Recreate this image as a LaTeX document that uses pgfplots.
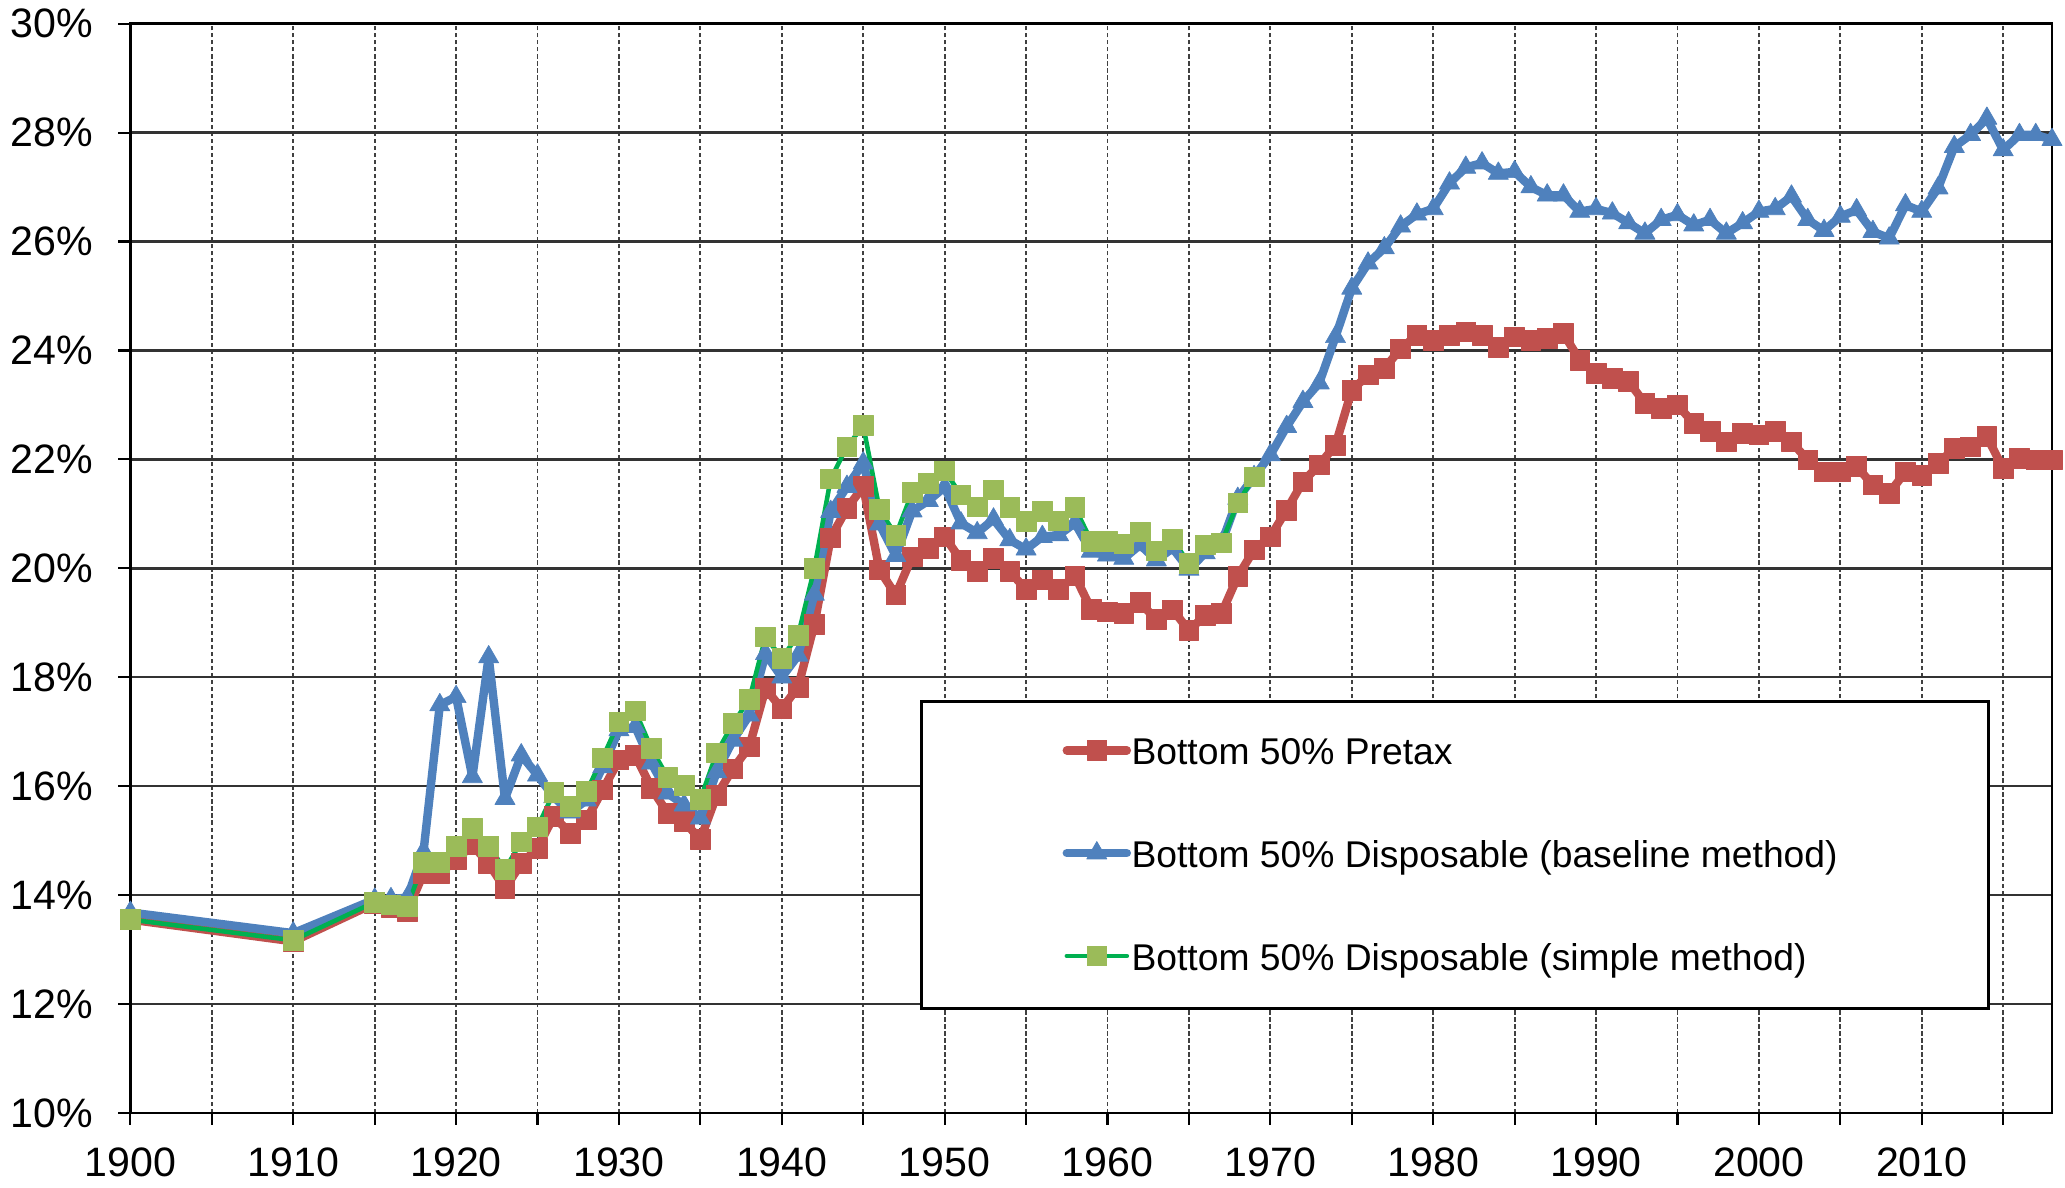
\documentclass[border=0pt]{standalone}
\usepackage{pgfplots}
\pgfplotsset{compat=1.18}
\usepackage{fontspec}
\setmainfont{Liberation Sans}
\definecolor{cred}{HTML}{C0504D}
\definecolor{cblue}{HTML}{4F81BD}
\definecolor{cgline}{HTML}{00B050}
\definecolor{cgmark}{HTML}{9BBB59}
\begin{document}
\begin{tikzpicture}
\useasboundingbox (-1.304cm,-0.743cm) rectangle (19.346cm,11.129cm);
\begin{axis}[
  at={(0,0)}, anchor=south west,
  scale only axis, width=19.216cm, height=10.892cm,
  xmin=1900, xmax=2018, ymin=10, ymax=30,
  xtick={1900,1910,1920,1930,1940,1950,1960,1970,1980,1990,2000,2010},
  xticklabels={1900,1910,1920,1930,1940,1950,1960,1970,1980,1990,2000,2010},
  minor xtick={1905,1915,1925,1935,1945,1955,1965,1975,1985,1995,2005,2015},
  ytick={10,12,14,16,18,20,22,24,26,28,30},
  yticklabels={10\%,12\%,14\%,16\%,18\%,20\%,22\%,24\%,26\%,28\%,30\%},
  xmajorgrids, xminorgrids, ymajorgrids,
  major x grid style={black!75, line width=0.5pt, dash pattern=on 1.2pt off 0.8pt},
  minor x grid style={black!75, line width=0.5pt, dash pattern=on 1.2pt off 0.8pt},
  major y grid style={black!80, line width=0.7pt},
  tick align=outside, xtick pos=bottom, ytick pos=left,
  major tick length=0.12cm, minor tick length=0.12cm,
  tick style={black, line width=0.6pt},
  axis line style={black, line width=0.8pt},
  /pgf/number format/assume math mode=true,
  ticklabel style={font=\fontsize{11.7}{14}\selectfont, inner sep=0pt},
  yticklabel style={xshift=-0.25cm},
  xticklabel style={yshift=-0.22cm},
  clip=false,
  legend cell align=left,
  legend style={draw=none, fill=none, at={(axis cs:1957.2,14.77)}, anchor=west,
    inner sep=0pt, row sep=0.618cm, column sep=0.005cm,
    font=\fontsize{10.6}{12}\selectfont,
    nodes={inner sep=0pt, text height=0.35cm, text depth=0.06cm}},
]
\addplot[color=cred, line width=2.4pt, line join=round, line cap=round, mark=square*, mark size=2.8pt,
  mark options={fill=cred, draw=cred, line width=0.2pt}] coordinates {
(1900,13.55) (1910,13.15) (1915,13.85) (1916,13.78) (1917,13.70) (1918,14.40) (1919,14.40)
(1920,14.65) (1921,14.92) (1922,14.58) (1923,14.12) (1924,14.58) (1925,14.86) (1926,15.45)
(1927,15.13) (1928,15.38) (1929,15.93) (1930,16.48) (1931,16.57) (1932,15.96) (1933,15.50)
(1934,15.35) (1935,15.02) (1936,15.83) (1937,16.32) (1938,16.72) (1939,17.79) (1940,17.42)
(1941,17.82) (1942,18.97) (1943,20.56) (1944,21.10) (1945,21.50) (1946,19.97) (1947,19.51)
(1948,20.21) (1949,20.37) (1950,20.58) (1951,20.15) (1952,19.94) (1953,20.18) (1954,19.94)
(1955,19.61) (1956,19.79) (1957,19.61) (1958,19.86) (1959,19.25) (1960,19.20) (1961,19.17)
(1962,19.37) (1963,19.06) (1964,19.24) (1965,18.86) (1966,19.14) (1967,19.17) (1968,19.85)
(1969,20.34) (1970,20.58) (1971,21.07) (1972,21.59) (1973,21.90) (1974,22.26) (1975,23.27)
(1976,23.55) (1977,23.67) (1978,24.03) (1979,24.28) (1980,24.19) (1981,24.28) (1982,24.34)
(1983,24.28) (1984,24.06) (1985,24.25) (1986,24.19) (1987,24.22) (1988,24.31) (1989,23.82)
(1990,23.58) (1991,23.49) (1992,23.43) (1993,23.03) (1994,22.94) (1995,23.00) (1996,22.66)
(1997,22.51) (1998,22.32) (1999,22.48) (2000,22.45) (2001,22.51) (2002,22.32) (2003,21.99)
(2004,21.77) (2005,21.77) (2006,21.87) (2007,21.53) (2008,21.38) (2009,21.77) (2010,21.71)
(2011,21.93) (2012,22.20) (2013,22.23) (2014,22.42) (2015,21.83) (2016,22.02) (2017,21.99)
(2018,21.99)};
\addlegendentry{Bottom 50\% Pretax}
\addplot[color=cblue, line width=2.4pt, line join=round, line cap=round, mark=triangle*, mark size=3.3pt,
  mark options={fill=cblue, draw=cblue, line width=0.2pt}] coordinates {
(1900,13.68) (1910,13.30) (1915,13.92) (1916,13.93) (1917,13.95) (1918,14.80) (1919,17.49)
(1920,17.64) (1921,16.17) (1922,18.37) (1923,15.77) (1924,16.57) (1925,16.20) (1926,15.80)
(1927,15.52) (1928,15.74) (1929,16.35) (1930,17.03) (1931,17.09) (1932,16.42) (1933,15.87)
(1934,15.65) (1935,15.41) (1936,16.26) (1937,16.84) (1938,17.30) (1939,18.43) (1940,18.00)
(1941,18.40) (1942,19.52) (1943,21.04) (1944,21.50) (1945,21.93) (1946,20.81) (1947,20.23)
(1948,21.05) (1949,21.24) (1950,21.49) (1951,20.83) (1952,20.65) (1953,20.90) (1954,20.52)
(1955,20.35) (1956,20.58) (1957,20.61) (1958,20.83) (1959,20.31) (1960,20.24) (1961,20.18)
(1962,20.43) (1963,20.15) (1964,20.37) (1965,19.98) (1966,20.28) (1967,20.46) (1968,21.28)
(1969,21.68) (1970,22.08) (1971,22.60) (1972,23.06) (1973,23.40) (1974,24.25) (1975,25.14)
(1976,25.60) (1977,25.88) (1978,26.28) (1979,26.50) (1980,26.60) (1981,27.07) (1982,27.36)
(1983,27.44) (1984,27.25) (1985,27.28) (1986,27.00) (1987,26.85) (1988,26.85) (1989,26.55)
(1990,26.60) (1991,26.52) (1992,26.34) (1993,26.15) (1994,26.40) (1995,26.49) (1996,26.30)
(1997,26.40) (1998,26.15) (1999,26.34) (2000,26.55) (2001,26.60) (2002,26.83) (2003,26.40)
(2004,26.20) (2005,26.46) (2006,26.58) (2007,26.18) (2008,26.06) (2009,26.67) (2010,26.55)
(2011,26.98) (2012,27.74) (2013,27.96) (2014,28.26) (2015,27.68) (2016,27.96) (2017,27.96)
(2018,27.87)};
\addlegendentry{Bottom 50\% Disposable (baseline method)}
\addplot[color=cgline, line width=1.3pt, line join=round, line cap=round, mark=square*, mark size=2.8pt,
  mark options={fill=cgmark, draw=cgmark, line width=0.2pt}] coordinates {
(1900,13.55) (1910,13.17) (1915,13.87) (1916,13.82) (1917,13.79) (1918,14.60) (1919,14.60)
(1920,14.89) (1921,15.22) (1922,14.90) (1923,14.47) (1924,14.98) (1925,15.25) (1926,15.88)
(1927,15.63) (1928,15.90) (1929,16.52) (1930,17.18) (1931,17.38) (1932,16.69) (1933,16.16)
(1934,16.02) (1935,15.76) (1936,16.61) (1937,17.15) (1938,17.59) (1939,18.74) (1940,18.35)
(1941,18.77) (1942,20.00) (1943,21.64) (1944,22.23) (1945,22.62) (1946,21.08) (1947,20.61)
(1948,21.39) (1949,21.56) (1950,21.79) (1951,21.35) (1952,21.13) (1953,21.44) (1954,21.12)
(1955,20.86) (1956,21.04) (1957,20.87) (1958,21.12) (1959,20.50) (1960,20.49) (1961,20.45)
(1962,20.67) (1963,20.32) (1964,20.53) (1965,20.09) (1966,20.43) (1967,20.47) (1968,21.20)
(1969,21.68)};
\addlegendentry{Bottom 50\% Disposable (simple method)}
\draw[black, line width=0.8pt, fill=white] (axis cs:1948.6,11.91) rectangle (axis cs:2014.1,17.55);
\end{axis}
\end{tikzpicture}
\end{document}
